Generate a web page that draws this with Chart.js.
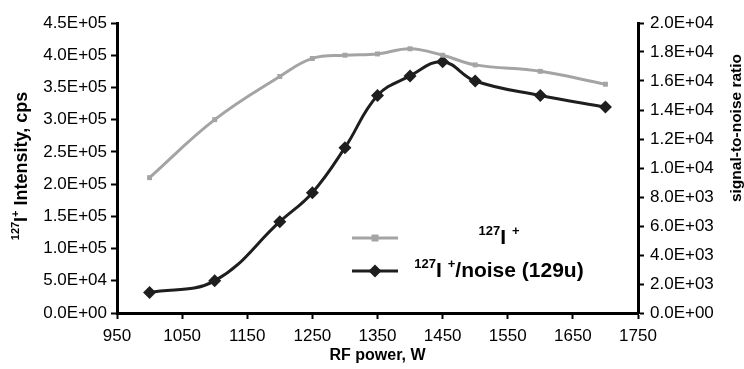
<!DOCTYPE html>
<html>
<head>
<meta charset="utf-8">
<script src="https://cdn.jsdelivr.net/npm/chart.js@4"></script>
<style>
  body { margin: 0; background: #fff; }
  #wrap { width: 744px; height: 369px; position: relative; }
</style>
</head>
<body>
<div id="wrap"><canvas id="grafico"></canvas></div>
<script>
// dados
var powerW = [1000, 1100, 1200, 1250, 1300, 1350, 1400, 1450, 1500, 1600, 1700];
var intensity = [210000, 300000, 367000, 395000, 400000, 402000, 410000, 400000, 385000, 375000, 355000];
var snRatio = [1420, 2220, 6300, 8300, 11400, 15000, 16350, 17330, 16000, 15000, 14200];

var FONT = '"Liberation Sans", Arial, sans-serif';
var GRAY = "#a4a4a4";
var DARK = "#1e1e1e";

function sci(v) {
    var s = Number(v).toExponential(1).split("e");
    var exp = s[1];
    return s[0] + "E" + exp[0] + exp.slice(1).padStart(2, "0");
}

// escreve texto com partes sobrescritas
function drawRich(ctx, parts, x, y, size, align) {
    var supSize = Math.round(size * 0.6);
    var total = 0;
    parts.forEach(function(p) {
        ctx.font = "bold " + (p.sup ? supSize : size) + "px " + FONT;
        p.w = ctx.measureText(p.t).width;
        total += p.w;
    });
    var cx = align === "center" ? x - total / 2 : x;
    ctx.textBaseline = "alphabetic";
    ctx.textAlign = "left";
    parts.forEach(function(p) {
        ctx.font = "bold " + (p.sup ? supSize : size) + "px " + FONT;
        ctx.fillText(p.t, cx, p.sup ? y - size * 0.42 : y);
        cx += p.w;
    });
}

var overlay = {
    id: "overlay",
    afterDraw: function(chart) {
        var ctx = chart.ctx;
        ctx.save();
        ctx.fillStyle = "#000";

        // titulo eixo esquerdo
        ctx.save();
        ctx.translate(21, 166);
        ctx.rotate(-Math.PI / 2);
        drawRich(ctx, [{t: "127", sup: true}, {t: "I"}, {t: "+", sup: true}, {t: " Intensity, cps"}], 0, 6, 18, "center");
        ctx.restore();

        // titulo eixo direito
        ctx.save();
        ctx.translate(735, 128);
        ctx.rotate(-Math.PI / 2);
        drawRich(ctx, [{t: "signal-to-noise ratio"}], 0, 6, 15.5, "center");
        ctx.restore();

        // legenda
        var items = [
            {y: 238, ds: chart.data.datasets[0], parts: [{t: "127", sup: true}, {t: "I "}, {t: "+", sup: true}]},
            {y: 271, ds: chart.data.datasets[1], parts: [{t: "127", sup: true}, {t: "I "}, {t: "+", sup: true}, {t: "/noise (129u)"}]}
        ];
        items.forEach(function(it) {
            ctx.strokeStyle = it.ds.borderColor;
            ctx.lineWidth = 3;
            ctx.beginPath();
            ctx.moveTo(352, it.y);
            ctx.lineTo(398, it.y);
            ctx.stroke();
            ctx.fillStyle = it.ds.pointBackgroundColor;
            var r = it.ds.pointRadius;
            ctx.beginPath();
            if (it.ds.pointStyle === "rectRot") {
                ctx.moveTo(375, it.y - r);
                ctx.lineTo(375 + r, it.y);
                ctx.lineTo(375, it.y + r);
                ctx.lineTo(375 - r, it.y);
            } else {
                ctx.rect(375 - r, it.y - r, 2 * r, 2 * r);
            }
            ctx.closePath();
            ctx.fill();
            ctx.fillStyle = "#000";
            drawRich(ctx, it.parts, 499, it.y + 6, 21, "center");
        });
        ctx.restore();
    }
};

const config = {
    type: "line",
    data: {
        datasets: [
            {
                label: "127I +",
                data: powerW.map(function(p, i) { return {x: p, y: intensity[i]}; }),
                yAxisID: "y",
                borderColor: GRAY,
                backgroundColor: GRAY,
                pointBackgroundColor: GRAY,
                pointBorderWidth: 0,
                borderWidth: 3,
                pointStyle: "rect",
                pointRadius: 3.5,
                tension: 0.4
            },
            {
                label: "127I +/noise (129u)",
                data: powerW.map(function(p, i) { return {x: p, y: snRatio[i]}; }),
                yAxisID: "y1",
                borderColor: DARK,
                backgroundColor: DARK,
                pointBackgroundColor: DARK,
                pointBorderWidth: 0,
                borderWidth: 3,
                pointStyle: "rectRot",
                pointRadius: 6.5,
                tension: 0.4
            }
        ]
    },
    options: {
        responsive: true,
        maintainAspectRatio: false,
        animation: false,
        layout: { padding: { top: 23, left: 0, right: 0, bottom: 0 } },
        plugins: { legend: { display: false }, tooltip: { enabled: false } },
        scales: {
            x: {
                type: "linear",
                min: 950,
                max: 1750,
                ticks: { stepSize: 100, color: "#000", padding: 7, callback: function(v) { return String(v); }, font: { family: FONT, size: 17 } },
                grid: { drawOnChartArea: false, tickLength: 6, tickWidth: 2, tickColor: "#000" },
                border: { width: 3, color: "#000" },
                title: { display: true, text: "RF power, W", color: "#000", padding: { top: 0, bottom: 4 }, font: { family: FONT, size: 16, weight: "bold" } },
                afterFit: function(s) { s.height = 56; }
            },
            y: {
                position: "left",
                min: 0,
                max: 450000,
                ticks: { stepSize: 50000, color: "#000", padding: 4, callback: sci, font: { family: FONT, size: 17 } },
                grid: { drawOnChartArea: false, tickLength: 6, tickWidth: 2, tickColor: "#000" },
                border: { width: 3, color: "#000" },
                afterFit: function(s) { s.width = 117; }
            },
            y1: {
                position: "right",
                min: 0,
                max: 20000,
                ticks: { stepSize: 2000, color: "#000", padding: 6, callback: sci, font: { family: FONT, size: 17 } },
                grid: { drawOnChartArea: false, tickLength: 6, tickWidth: 2, tickColor: "#000" },
                border: { width: 3, color: "#000" },
                afterFit: function(s) { s.width = 106; }
            }
        }
    },
    plugins: [overlay]
};

var meuGrafico = new Chart(document.getElementById("grafico"), config);
</script>
</body>
</html>
